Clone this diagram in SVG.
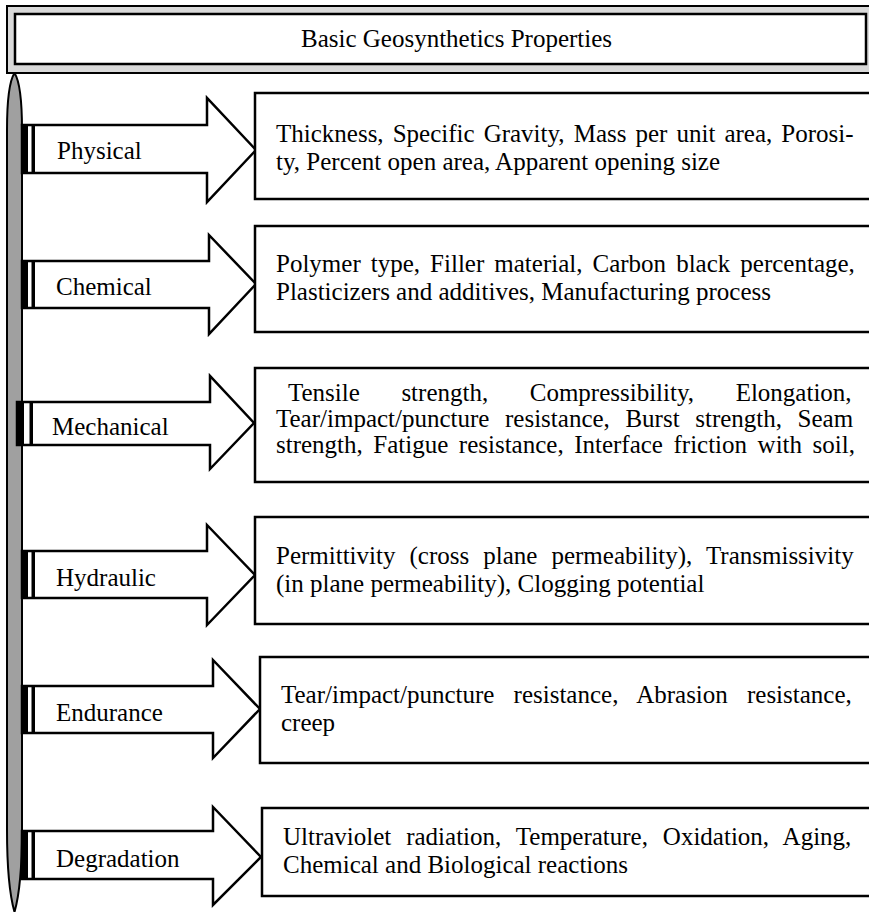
<svg xmlns="http://www.w3.org/2000/svg" width="869" height="912" viewBox="0 0 869 912">
<style>
  text { font-family: "Liberation Serif", "Times New Roman", serif; font-size: 25px; fill: #000; }
  .box { fill: #fff; stroke: #000; stroke-width: 2.5; }
  .arrow { fill: #fff; stroke: #000; stroke-width: 2.5; stroke-linejoin: miter; }
  .stripe { fill: #000; }
</style>
<rect width="869" height="912" fill="#fff"/>
<g id="pillar">
  <path d="M14.5,73 C19,80 22,100 22,130 L22,830 C22,870 18.5,898 14.5,912 C10.5,898 7,870 7,830 L7,130 C7,100 10,80 14.5,73 Z" fill="#a0a0a0" stroke="#000" stroke-width="2"/>
</g>
<g id="title">
  <rect x="7" y="6" width="868" height="67" fill="#d9d9d9" stroke="#000" stroke-width="2"/>
  <rect x="15" y="14" width="851" height="50" fill="#fff" stroke="#000" stroke-width="2.5"/>
  <text x="301" y="47">Basic Geosynthetics Properties</text>
</g>
<g id="connectors">
  <g id="arrow-physical">
    <polygon class="arrow" points="22,125 207,125 207,98 256,150 207,202 207,173 22,173"/>
    <rect class="stripe" x="22" y="125" width="6" height="48"/>
    <rect class="stripe" x="31.5" y="125" width="3.5" height="48"/>
  </g>
  <g id="arrow-chemical">
    <polygon class="arrow" points="22,261 209,261 209,235 256,284 209,334 209,308 22,308"/>
    <rect class="stripe" x="22" y="261" width="6" height="47"/>
    <rect class="stripe" x="31.5" y="261" width="3.5" height="47"/>
  </g>
  <g id="arrow-mechanical">
    <polygon class="arrow" points="17,402 210,402 210,376 254,423 210,469 210,445 17,445"/>
    <rect class="stripe" x="17" y="402" width="7" height="43"/>
    <rect class="stripe" x="29.5" y="402" width="3.5" height="43"/>
  </g>
  <g id="arrow-hydraulic">
    <polygon class="arrow" points="22,551 207,551 207,525 255,575 207,625 207,598 22,598"/>
    <rect class="stripe" x="22" y="551" width="6" height="47"/>
    <rect class="stripe" x="31.5" y="551" width="3.5" height="47"/>
  </g>
  <g id="arrow-endurance">
    <polygon class="arrow" points="22,686 213,686 213,660 260,709 213,758 213,733 22,733"/>
    <rect class="stripe" x="22" y="686" width="6" height="47"/>
    <rect class="stripe" x="31.5" y="686" width="3.5" height="47"/>
  </g>
  <g id="arrow-degradation">
    <polygon class="arrow" points="22,831 213,831 213,807 261,857 213,905 213,879 22,879"/>
    <rect class="stripe" x="22" y="831" width="6" height="48"/>
    <rect class="stripe" x="31.5" y="831" width="3.5" height="48"/>
  </g>
</g>
<g id="label-physical"><text x="57" y="159">Physical</text></g>
<g id="label-chemical"><text x="56" y="295">Chemical</text></g>
<g id="label-mechanical"><text x="52" y="435">Mechanical</text></g>
<g id="label-hydraulic"><text x="56" y="586">Hydraulic</text></g>
<g id="label-endurance"><text x="56" y="721">Endurance</text></g>
<g id="label-degradation"><text x="56" y="867">Degradation</text></g>
<g id="box-physical">
  <rect class="box" x="255" y="93" width="625" height="106"/>
  <text x="276" y="142" word-spacing="2.8">Thickness, Specific Gravity, Mass per unit area, Porosi-</text>
  <text x="276" y="170">ty, Percent open area, Apparent opening size</text>
</g>
<g id="box-chemical">
  <rect class="box" x="255" y="226" width="625" height="106"/>
  <text x="276" y="272" word-spacing="3.8">Polymer type, Filler material, Carbon black percentage,</text>
  <text x="276" y="300">Plasticizers and additives, Manufacturing process</text>
</g>
<g id="box-mechanical">
  <rect class="box" x="255" y="368" width="625" height="114"/>
  <text x="288" y="401" word-spacing="35.3">Tensile strength, Compressibility, Elongation,</text>
  <text x="276" y="427" word-spacing="9.35">Tear/impact/puncture resistance, Burst strength, Seam</text>
  <text x="276" y="453" word-spacing="4.27">strength, Fatigue resistance, Interface friction with soil,</text>
</g>
<g id="box-hydraulic">
  <rect class="box" x="255" y="517" width="625" height="107"/>
  <text x="276" y="564" word-spacing="7.8">Permittivity (cross plane permeability), Transmissivity</text>
  <text x="276" y="592">(in plane permeability), Clogging potential</text>
</g>
<g id="box-endurance">
  <rect class="box" x="260" y="657" width="620" height="106"/>
  <text x="281" y="703" word-spacing="12.9">Tear/impact/puncture resistance, Abrasion resistance,</text>
  <text x="281" y="731">creep</text>
</g>
<g id="box-degradation">
  <rect class="box" x="262" y="808" width="618" height="88"/>
  <text x="283" y="845" word-spacing="8.65">Ultraviolet radiation, Temperature, Oxidation, Aging,</text>
  <text x="283" y="873">Chemical and Biological reactions</text>
</g>
</svg>
